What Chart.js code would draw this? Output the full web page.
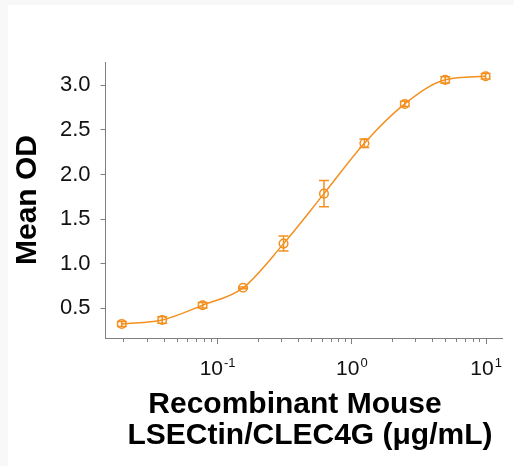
<!DOCTYPE html>
<html>
<head>
<meta charset="utf-8">
<script src="https://cdn.jsdelivr.net/npm/chart.js@4"></script>
<style>
  html, body { margin: 0; padding: 0; background: #f8f8f8; }
  #wrap { width: 514px; height: 466px; position: relative; }
</style>
</head>
<body>
<div id="wrap"><canvas id="odChart"></canvas></div>
<script>
// === data ===
const concentrations = [0.0195, 0.039, 0.078, 0.156, 0.3125, 0.625, 1.25, 2.5, 5, 10];
const meanOD = [0.325, 0.37, 0.535, 0.73, 1.225, 1.785, 2.35, 2.79, 3.06, 3.10];
const sdOD = [0.028, 0.037, 0.03, 0.01, 0.084, 0.146, 0.047, 0.03, 0.034, 0.03];
const yTicks = [0.5, 1.0, 1.5, 2.0, 2.5, 3.0];
const xLabelTicks = [0.1, 1, 10];
const xLabelExp = ["-1", "0", "1"];

const orange = "#f39020";
const axisGrey = "#7f7f7f";
const fontFamily = "'Liberation Sans', Arial, sans-serif";

// background: light grey frame on the left/top, white elsewhere
const bgPlugin = {
  id: "bg",
  beforeDraw(chart) {
    const ctx = chart.ctx;
    ctx.save();
    ctx.fillStyle = "#f8f8f8";
    ctx.fillRect(0, 0, chart.width, chart.height);
    ctx.fillStyle = "#ffffff";
    ctx.fillRect(8, 5, chart.width - 8, chart.height - 5);
    ctx.restore();
  }
};

// error bars with caps
const errorBarPlugin = {
  id: "errorBars",
  afterDatasetsDraw(chart) {
    const ctx = chart.ctx;
    const xs = chart.scales.x, ys = chart.scales.y;
    ctx.save();
    ctx.strokeStyle = orange;
    ctx.lineWidth = 1.5;
    concentrations.forEach((c, i) => {
      const x = xs.getPixelForValue(c);
      const yTop = ys.getPixelForValue(meanOD[i] + sdOD[i]);
      const yBot = ys.getPixelForValue(meanOD[i] - sdOD[i]);
      ctx.beginPath();
      ctx.moveTo(x, yTop); ctx.lineTo(x, yBot);
      ctx.moveTo(x - 5, yTop); ctx.lineTo(x + 5, yTop);
      ctx.moveTo(x - 5, yBot); ctx.lineTo(x + 5, yBot);
      ctx.stroke();
    });
    ctx.restore();
  }
};

// log x axis ticks, 10^n labels and both axis titles
const axisPlugin = {
  id: "axisText",
  afterDraw(chart) {
    const ctx = chart.ctx;
    const xs = chart.scales.x;
    const area = chart.chartArea;
    ctx.save();
    // minor + major ticks
    ctx.strokeStyle = axisGrey;
    ctx.lineWidth = 1;
    for (let d = -2; d <= 1; d++) {
      for (let m = 1; m <= 9; m++) {
        const v = m * Math.pow(10, d);
        if (v < xs.min || v > xs.max) continue;
        const x = Math.round(xs.getPixelForValue(v)) + 0.5;
        ctx.beginPath();
        ctx.moveTo(x, area.bottom);
        ctx.lineTo(x, area.bottom + (m === 1 ? 6 : 4));
        ctx.stroke();
      }
    }
    // 10^n labels
    ctx.fillStyle = "#111";
    ctx.textBaseline = "alphabetic";
    xLabelTicks.forEach((v, i) => {
      const x = xs.getPixelForValue(v);
      ctx.font = "21px " + fontFamily;
      const wBase = ctx.measureText("10").width;
      ctx.font = "13px " + fontFamily;
      const wExp = ctx.measureText(xLabelExp[i]).width;
      const left = x - (wBase + wExp) / 2;
      ctx.textAlign = "left";
      ctx.font = "21px " + fontFamily;
      ctx.fillText("10", left, 375);
      ctx.font = "13px " + fontFamily;
      ctx.fillText(xLabelExp[i], left + wBase + 1, 367);
    });
    // x title
    ctx.font = "bold 30px " + fontFamily;
    ctx.textAlign = "center";
    ctx.fillStyle = "#000";
    ctx.fillText("Recombinant Mouse", 295, 413);
    ctx.fillText("LSECtin/CLEC4G (μg/mL)", 310, 444);
    // y title
    ctx.translate(36, (area.top + area.bottom) / 2);
    ctx.rotate(-Math.PI / 2);
    ctx.fillText("Mean OD", 0, 0);
    ctx.restore();
  }
};

const ctx = document.getElementById("odChart").getContext("2d");
const chart = new Chart(ctx, {
  type: "line",
  data: {
    datasets: [{
      data: concentrations.map((c, i) => ({ x: c, y: meanOD[i] })),
      borderColor: orange,
      borderWidth: 1.5,
      cubicInterpolationMode: "monotone",
      pointStyle: "circle",
      pointRadius: 4.3,
      pointBorderWidth: 1.5,
      pointBorderColor: orange,
      pointBackgroundColor: "rgba(0,0,0,0)",
      fill: false
    }]
  },
  options: {
    responsive: true,
    maintainAspectRatio: false,
    animation: false,
    layout: { padding: { left: 0, top: 62, right: 11.3, bottom: 0 } },
    plugins: {
      legend: { display: false },
      tooltip: { enabled: false }
    },
    scales: {
      x: {
        type: "logarithmic",
        min: 0.01475,
        max: 13.4,
        grid: { display: false },
        border: { display: true, color: axisGrey, width: 1 },
        ticks: { display: false },
        afterFit: (scale) => { scale.height = 128; }
      },
      y: {
        type: "linear",
        min: 0.1675,
        max: 3.26,
        afterBuildTicks: (scale) => { scale.ticks = yTicks.map(v => ({ value: v })); },
        grid: { drawOnChartArea: false, drawTicks: true, tickLength: 5, color: axisGrey },
        border: { display: true, color: axisGrey, width: 1 },
        ticks: {
          padding: 10,
          color: "#111",
          font: { family: fontFamily, size: 22 },
          callback: (v) => Number(v).toFixed(1)
        },
        afterFit: (scale) => { scale.width = 105.5; }
      }
    }
  },
  plugins: [bgPlugin, errorBarPlugin, axisPlugin]
});
</script>
</body>
</html>
